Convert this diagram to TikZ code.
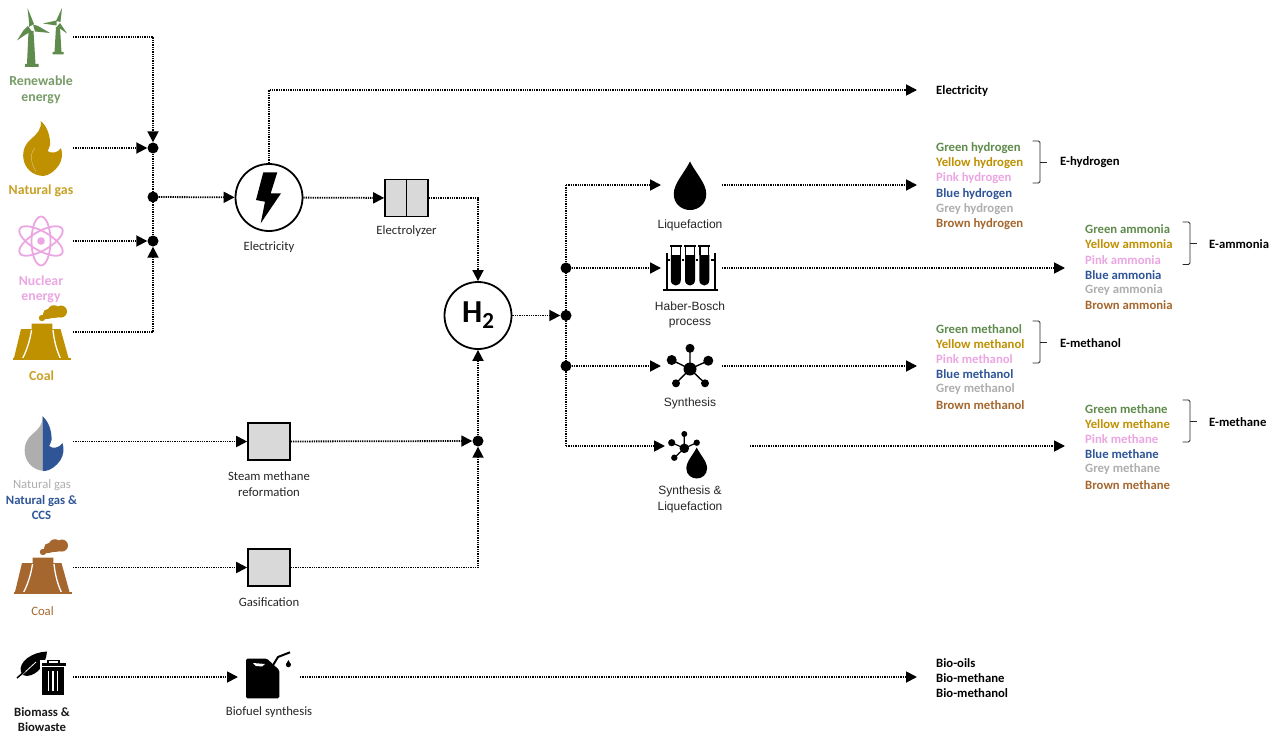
\documentclass[tikz,border=0pt]{standalone}
\usepackage{fontspec}
\setmainfont{Carlito}
\newfontfamily\arialf{Liberation Sans}
\usetikzlibrary{arrows.meta,calc}
\definecolor{cgreen}{HTML}{5F8B4C}
\definecolor{cyellow}{HTML}{BF9000}
\definecolor{cpink}{HTML}{EBA6E3}
\definecolor{cblue}{HTML}{2F5597}
\definecolor{cgrey}{HTML}{AEAEAE}
\definecolor{cbrown}{HTML}{A5672E}
\definecolor{cbox}{HTML}{D9D9D9}
\tikzset{
  x=1pt,y=-1pt,
  dotline/.style={line width=1.8pt,dash pattern=on 1.3pt off 1pt},
  conn/.style={dotline,-{Triangle[length=11pt,width=11pt]}},
  junc/.style={circle,fill=black,inner sep=0pt,minimum size=11pt},
  bigc/.style={circle,draw=black,line width=1.8pt,fill=white,minimum size=67pt,inner sep=0pt},
  procbox/.style={draw=black,line width=1.6pt,fill=cbox,minimum width=42pt,minimum height=37pt,inner sep=0pt},
  srclab/.style={font=\fontsize{13.8}{15.5}\selectfont\bfseries,align=center,inner sep=0pt,yshift=-0.7pt},
  proclab/.style={font=\fontsize{12.7}{15.5}\selectfont,text=black!85,align=center,inner sep=0pt,yshift=-0.7pt},
  arlab/.style={font=\arialf\fontsize{12}{15.5}\selectfont,text=black!85,align=center,inner sep=0pt,yshift=-0.5pt},
  outlab/.style={font=\fontsize{12.7}{14}\selectfont\bfseries,anchor=west,inner sep=0pt,yshift=-0.8pt},
  bracepath/.style={draw=black!85,line width=0.9pt,line join=round},
}
\newcommand{\flamepath}{(40.7,121) .. controls (47,126) and (50.5,136) .. (50,145) .. controls (49.7,147) and (48.5,149) .. (47.7,151) .. controls (51,154) and (58,153) .. (61,148) .. controls (63,154) and (62,160) .. (59,165) .. controls (55,171) and (49,175.5) .. (43.3,176) .. controls (33,175.5) and (25,169) .. (23.5,159) .. controls (22,150) and (26,143) .. (31,139) .. controls (37,134) and (42,129) .. (40.7,121) -- cycle}
\newcommand{\towericon}[1]{%
  \fill[#1] (21,329) -- (31.7,329) -- (31.7,323.5) -- (52.3,323.5) -- (52.3,329) -- (60.5,329) -- (68.5,358) -- (14,358) -- cycle;
  \draw[white,line width=1.3pt] (31.5,330) .. controls (30,340) and (27,350) .. (22.5,358.5);
  \draw[white,line width=1.3pt] (53,330) .. controls (54,340) and (56.5,350) .. (60.5,358.5);
  \fill[#1] (13,358) rectangle (71,360);
  \fill[#1] (42,318) circle (3.2) (48,314) circle (5) (54,311.5) circle (6.3) (61,311.5) circle (6);
  \fill[#1] (40,320) -- (52,318) -- (62,317) -- (55,306) -- (46,311) -- cycle;
}
\newcommand{\dropicon}[3]{% cx, top y, bottom y
  \pgfmathsetmacro{\dw}{(#3-#2)*0.335}
  \fill[black] (#1,#2) .. controls ({#1+\dw*0.35},{#2+(#3-#2)*0.24}) and ({#1+\dw},{#2+(#3-#2)*0.45}) .. ({#1+\dw},{#2+(#3-#2)*0.67}) .. controls ({#1+\dw},{#2+(#3-#2)*0.88}) and ({#1+\dw*0.5},#3) .. (#1,#3) .. controls ({#1-\dw*0.5},#3) and ({#1-\dw},{#2+(#3-#2)*0.88}) .. ({#1-\dw},{#2+(#3-#2)*0.67}) .. controls ({#1-\dw},{#2+(#3-#2)*0.45}) and ({#1-\dw*0.35},{#2+(#3-#2)*0.24}) .. (#1,#2) -- cycle;
}
\begin{document}
\begin{tikzpicture}
\useasboundingbox (0,0) rectangle (1277,733);
\fill[white] (0,0) rectangle (1277,733);

% --- wind turbines
\begin{scope}[cgreen]
\fill (28.5,31) -- (33.5,31) -- (35.5,64) -- (38.5,64) -- (38.5,67) -- (25,67) -- (25,64) -- (27,64) -- cycle;
\fill (29,27) -- (29,22) -- (27.5,8) -- (34,24) -- cycle;
\fill (33,24.5) -- (38,26) -- (50,33) -- (35,31.5) -- cycle;
\fill (28,26) -- (31.5,31) -- (25,35) -- (17,40.5) -- (23,31) -- cycle;
\fill[white] (31,27.5) circle (1.6);
\fill (56,27) -- (60,27) -- (61.5,52) -- (63.5,52) -- (63.5,54.5) -- (52.5,54.5) -- (52.5,52) -- (54.5,52) -- cycle;
\fill (56,21) -- (62,8) -- (60.5,22) -- cycle;
\fill (56.5,20.5) -- (43,23.5) -- (56.5,25.5) -- cycle;
\fill (60,23) -- (67,33.5) -- (57,26.5) -- cycle;
\fill[white] (58,23) circle (1.4);
\end{scope}

% --- flames
\fill[cyellow] \flamepath;
\draw[cyellow!55,line width=0.5pt,line cap=round] (35,148) .. controls (31,152) and (29,160) .. (36,171.5);
\begin{scope}[shift={(1.5,295)}]
  \begin{scope}
    \clip (0,100) rectangle (41,200);
    \fill[cgrey] \flamepath;
  \end{scope}
  \begin{scope}
    \clip (41,100) rectangle (80,200);
    \fill[cblue] \flamepath;
  \end{scope}
\end{scope}

% --- atom
\begin{scope}[cpink,line width=1.8pt]
  \draw (41,241) ellipse[x radius=24.5,y radius=9.5,rotate=90];
  \draw (41,241) ellipse[x radius=24.5,y radius=9.5,rotate=30];
  \draw (41,241) ellipse[x radius=24.5,y radius=9.5,rotate=-30];
  \fill (41,241) circle (3.8);
\end{scope}

% --- cooling towers
\towericon{cyellow}
\begin{scope}[shift={(1,234)}]\towericon{cbrown}\end{scope}

% --- biomass and bin
\fill[black] (47,651.5) .. controls (46,664) and (38,675) .. (27,676) .. controls (24,676) and (22,675) .. (21,672) .. controls (18,662) and (32,652) .. (47,651.5) -- cycle;
\draw[white,line width=0.8pt] (23,674) -- (36,662);
\draw[black,line width=1.5pt] (17,678) -- (25,671);
\fill[white] (40,660) rectangle (70,700);
\fill[black] (41.5,663) rectangle (66,665.5);
\draw[black,line width=1.1pt] (48,663) -- (48,660.5) -- (59,660.5) -- (59,663);
\fill[black] (42,667) rectangle (63.5,695) ;
\fill[white] (47.5,671) rectangle (48.8,691);
\fill[white] (52.2,671) rectangle (53.5,691);
\fill[white] (57,671) rectangle (58.3,691);

% --- process boxes and circles
\node[bigc] (elec) at (269,197.5) {};
\fill[black] (263.3,172.3) -- (277.3,172.3) -- (270.7,193.3) -- (281,193.3) -- (260.7,223.3) -- (265,201.7) -- (256,200) -- cycle;
\node[procbox,minimum width=43pt,minimum height=37pt] (lyzer) at (406.5,198) {};
\draw[black,line width=1.6pt] (lyzer.north) -- (lyzer.south);
\node[bigc] (htwo) at (478,315.5) {\fontsize{32}{32}\selectfont\bfseries H\raisebox{-6pt}{\fontsize{23}{23}\selectfont 2}};
\node[procbox] (smr) at (269,441.5) {};
\node[procbox] (gas) at (269,567.5) {};

% --- junctions
\node[junc] (ja) at (153,148) {};
\node[junc] (jb) at (153,197) {};
\node[junc] (jc) at (153,241) {};
\node[junc] (jd) at (478,441) {};
\node[junc] (je) at (566,268) {};
\node[junc] (jf) at (566,315.5) {};
\node[junc] (jg) at (566,366) {};

% --- connector ends
\coordinate (windOut) at (73,37);
\coordinate (ngOut) at (73,148);
\coordinate (nucOut) at (73,241);
\coordinate (coalOut) at (73,332);
\coordinate (elOut) at (917,90);
\coordinate (ngbOut) at (73,441.5);
\coordinate (coalbOut) at (73,567.5);
\coordinate (bioOut) at (73,677);
\coordinate (canIn) at (238,677);
\coordinate (canOut) at (300,677);
\coordinate (bioEnd) at (917,677);
\coordinate (vTop) at (566,185);
\coordinate (vBot) at (566,446);
\coordinate (liqIn) at (661,185);
\coordinate (liqOut) at (722,185);
\coordinate (liqEnd) at (917,185);
\coordinate (habIn) at (661,268);
\coordinate (habOut) at (722,268);
\coordinate (habEnd) at (1065,268);
\coordinate (synIn) at (661,366);
\coordinate (synOut) at (722,366);
\coordinate (synEnd) at (917,366);
\coordinate (sliIn) at (665,446);
\coordinate (sliOut) at (750,446);
\coordinate (sliEnd) at (1065,446);

% --- connectors
\draw[conn] (windOut) -| (ja);
\draw[conn] (ngOut) -- (ja);
\draw[conn] (nucOut) -- (jc);
\draw[conn] (coalOut) -| (jc);
\draw[dotline] (ja) -- (jc);
\draw[conn] (jb) -- (elec);
\draw[conn] (elec.north) |- (elOut);
\draw[conn] (elec) -- (lyzer);
\draw[conn] (lyzer.east) -| (htwo.north);
\draw[conn] (ngbOut) -- (smr);
\draw[conn] (coalbOut) -- (gas);
\draw[conn] (smr) -- (jd);
\draw[conn] (gas) -| (jd);
\draw[conn] (jd) -- (htwo);
\draw[conn] (htwo) -- (jf);
\draw[dotline] (vTop) -- (vBot);
\draw[conn] (vTop) -- (liqIn);
\draw[conn] (je) -- (habIn);
\draw[conn] (jg) -- (synIn);
\draw[conn] (vBot) -- (sliIn);
\draw[conn] (liqOut) -- (liqEnd);
\draw[conn] (habOut) -- (habEnd);
\draw[conn] (synOut) -- (synEnd);
\draw[conn] (sliOut) -- (sliEnd);
\draw[conn] (bioOut) -- (canIn);
\draw[conn] (canOut) -- (bioEnd);

% --- jerry can
\fill[black,rounded corners=1.5pt] (246,658.5) -- (266.7,658.5) -- (279.3,670) -- (279.3,698.3) -- (246,698.3) -- cycle;
\fill[white] (253,663) -- (265,664) -- (262,666.5) -- (256,666) -- cycle;
\draw[black,line width=2pt] (272.5,666) -- (278,657) -- (290,652.3);
\fill[black] (288.4,664.8) circle (2.5);
\fill[black] (288.4,660) -- (290.8,664.5) -- (286,664.5) -- cycle;

% --- drop, tubes, molecules
\dropicon{690}{161.5}{210}
\fill[black] (662.7,288.5) rectangle (718,291);
\fill[black] (666,253) rectangle (668.3,289);
\fill[black] (713.5,253) rectangle (715.8,289);
\fill[black] (666,258.5) rectangle (715.8,260.5);
\foreach \tx in {675.8,690,704.3}{
  \fill[white] (\tx-6.3,250) rectangle (\tx+6.3,287);
  \fill[black] (\tx-5,255) -- (\tx+5,255) -- (\tx+5,280) .. controls (\tx+5,283.5) and (\tx+2.5,285.5) .. (\tx,285.5) .. controls (\tx-2.5,285.5) and (\tx-5,283.5) .. (\tx-5,280) -- cycle;
  \draw[black,line width=1.1pt] (\tx-4.3,255) -- (\tx-4.3,246) (\tx+4.3,246) -- (\tx+4.3,255);
  \fill[black] (\tx-6,244.8) rectangle (\tx+6,247);
}
\begin{scope}[black]
  \draw[line width=1.4pt] (690,348.3) -- (690,369) (671.7,360) -- (690,369) (708.3,360.7) -- (690,369) (676,383.3) -- (690,369) (705,383.3) -- (690,369);
  \fill (690,369) circle (6.5) (690,348.3) circle (4.5) (671.7,360) circle (5) (708.3,360.7) circle (5) (676,383.3) circle (4) (705,383.3) circle (4);
  \draw[line width=1.2pt] (684.3,448.3) -- (684.3,434) (684.3,448.3) -- (671.7,442.7) (684.3,448.3) -- (696.7,442.7) (684.3,448.3) -- (674.3,457.7);
  \fill (684.3,448.3) circle (4.8) (684.3,434) circle (3) (671.7,442.7) circle (3.6) (696.7,442.7) circle (3.2) (674.3,457.7) circle (3.2);
\end{scope}
\dropicon{696.7}{447.5}{478.5}

% --- source labels
\node[srclab,text=cgreen!85] (tWind) at (41,89) {Renewable\\energy};
\node[srclab,text=cyellow!85] (tNg) at (41,190) {Natural gas};
\node[srclab,text=cpink] (tNuc) at (41,288.5) {Nuclear\\energy};
\node[srclab,text=cyellow!85] (tCoal) at (41.5,375) {Coal};
\node[srclab,text=cgrey,font=\fontsize{12.7}{15}\selectfont] (tNgb) at (42,484) {Natural gas};
\node[srclab,text=cblue,font=\fontsize{12.7}{15}\selectfont\bfseries] (tCcs) at (41.5,506.5) {Natural gas \&\\CCS};
\node[srclab,text=cbrown,font=\fontsize{12.7}{15}\selectfont] (tCoalb) at (42.5,610) {Coal};
\node[srclab,text=black!90,font=\fontsize{12.7}{15}\selectfont\bfseries] (tBio) at (42,718.5) {Biomass \&\\Biowaste};

% --- process labels
\node[proclab] (lElec) at (269,246) {Electricity};
\node[proclab] (lLyz) at (406.5,230.5) {Electrolyzer};
\node[proclab] (lSmr) at (269,483.5) {Steam methane\\reformation};
\node[proclab] (lGas) at (269,601) {Gasification};
\node[proclab] (lBio) at (269,711) {Biofuel synthesis};
\node[arlab] (lLiq) at (690,224.5) {Liquefaction};
\node[arlab] (lHab) at (690,314.5) {Haber-Bosch\\process};
\node[arlab] (lSyn) at (690,403) {Synthesis};
\node[arlab] (lSli) at (690,499) {Synthesis \&\\Liquefaction};

% --- output labels
\node[outlab,text=black] (oEl) at (936,90) {Electricity};
\node[outlab,text=cgreen] (h1) at (936,147) {Green hydrogen};
\node[outlab,text=cyellow] (h2) at (936,162) {Yellow hydrogen};
\node[outlab,text=cpink] (h3) at (936,177.3) {Pink hydrogen};
\node[outlab,text=cblue] (h4) at (936,193) {Blue hydrogen};
\node[outlab,text=cgrey] (h5) at (936,208) {Grey hydrogen};
\node[outlab,text=cbrown] (h6) at (936,223.5) {Brown hydrogen};
\node[outlab,text=cgreen] (a1) at (1085,228.5) {Green ammonia};
\node[outlab,text=cyellow] (a2) at (1085,243.7) {Yellow ammonia};
\node[outlab,text=cpink] (a3) at (1085,259) {Pink ammonia};
\node[outlab,text=cblue] (a4) at (1085,274) {Blue ammonia};
\node[outlab,text=cgrey] (a5) at (1085,289) {Grey ammonia};
\node[outlab,text=cbrown] (a6) at (1085,304.5) {Brown ammonia};
\node[outlab,text=cgreen] (m1) at (936,328) {Green methanol};
\node[outlab,text=cyellow] (m2) at (936,343) {Yellow methanol};
\node[outlab,text=cpink] (m3) at (936,358) {Pink methanol};
\node[outlab,text=cblue] (m4) at (936,373.5) {Blue methanol};
\node[outlab,text=cgrey] (m5) at (936,388.5) {Grey methanol};
\node[outlab,text=cbrown] (m6) at (936,404) {Brown methanol};
\node[outlab,text=cgreen] (e1) at (1085,408) {Green methane};
\node[outlab,text=cyellow] (e2) at (1085,423) {Yellow methane};
\node[outlab,text=cpink] (e3) at (1085,438) {Pink methane};
\node[outlab,text=cblue] (e4) at (1085,453.5) {Blue methane};
\node[outlab,text=cgrey] (e5) at (1085,468.5) {Grey methane};
\node[outlab,text=cbrown] (e6) at (1085,484) {Brown methane};
\node[outlab,text=black] (gH) at (1060,161.5) {E-hydrogen};
\node[outlab,text=black] (gA) at (1209,243) {E-ammonia};
\node[outlab,text=black] (gM) at (1060,342) {E-methanol};
\node[outlab,text=black] (gE) at (1209,421) {E-methane};
\node[outlab,text=black] (b1) at (936,662.5) {Bio-oils};
\node[outlab,text=black] (b2) at (936,677.7) {Bio-methane};
\node[outlab,text=black] (b3) at (936,692.7) {Bio-methanol};

% --- brackets
\foreach \bx/\ba/\bb in {1040/141/183,1190/222/264.5,1040/321/363,1190/400/442}{
  \draw[bracepath,rounded corners=1.5pt] (\bx-7.5,\ba) -- (\bx,\ba) -- (\bx,\bb) -- (\bx-7.5,\bb);
  \draw[bracepath] (\bx,{(\ba+\bb)/2}) -- (\bx+6.5,{(\ba+\bb)/2});
}
\end{tikzpicture}
\end{document}
